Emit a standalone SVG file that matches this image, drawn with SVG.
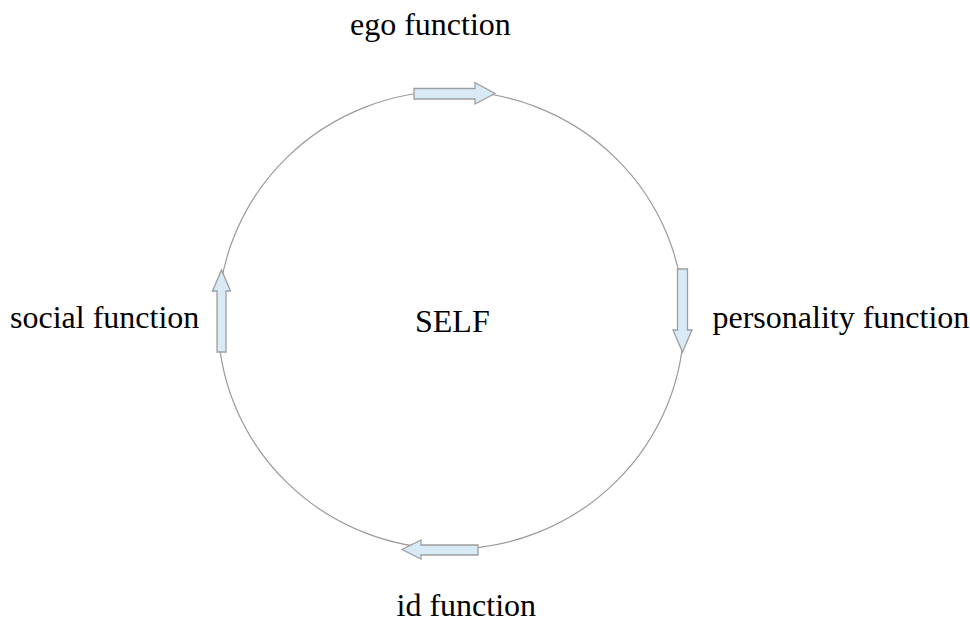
<svg xmlns="http://www.w3.org/2000/svg" width="970" height="626" viewBox="0 0 970 626">
<style>
.lbl{font-family:"Liberation Serif","Times New Roman",serif;font-size:32px;fill:#000}
.ring{fill:none;stroke:#9a9a9a;stroke-width:1.2}
.arr{fill:#d7eaf6;stroke:#9e9e9e;stroke-width:1.3;stroke-linejoin:miter}
</style>
<rect width="970" height="626" fill="#fff"/>
<g id="connectors">
<ellipse class="ring" cx="451" cy="320" rx="233" ry="229"/>
<polygon class="arr" points="414,88.5 475,88.5 475,82.5 495,93.5 475,104 475,99 414,99"/>
<polygon class="arr" points="677.5,269 687.5,269 687.5,330 692,330 682.5,352 673,330 677.5,330"/>
<polygon class="arr" points="478,545 421,545 421,540 402,549.5 421,559 421,555 478,555"/>
<polygon class="arr" points="217,352 226,352 226,291 230.5,291 221.5,270 212.5,291 217,291"/>
</g>
<g id="self"><text class="lbl" x="415" y="332">SELF</text></g>
<g id="ego"><text class="lbl" x="350" y="35">ego function</text></g>
<g id="personality"><text class="lbl" x="712.5" y="328">personality function</text></g>
<g id="id"><text class="lbl" x="396.5" y="616">id function</text></g>
<g id="social"><text class="lbl" x="10" y="328">social function</text></g>
</svg>
